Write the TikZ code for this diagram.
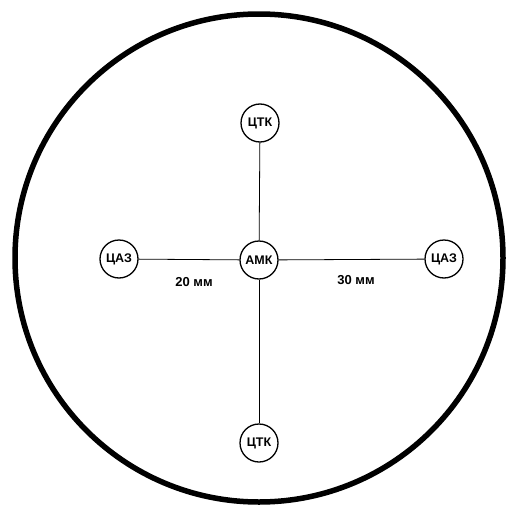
\documentclass[tikz,border=0pt]{standalone}
\usepackage{fontspec}
\setmainfont{Liberation Sans}
\usepackage{tikz}

\begin{document}
\begin{tikzpicture}[x=1pt, y=-1pt,
    post/.style={draw, line width=1.3pt, circle, minimum size=38pt, inner sep=0pt, fill=white, font=\bfseries\fontsize{12.5}{12.5}\selectfont},
    dist/.style={font=\bfseries\fontsize{13}{13}\selectfont}]
    \useasboundingbox (0, 0) rectangle (506, 506);

    % Outer ring
    \draw[line width=5.5pt] (259, 258) circle (244);

    % Posts
    \node[post] (amk) at (259, 260) {АМК};
    \node[post] (ctkN) at (260, 123) {ЦТК};
    \node[post] (ctkS) at (259, 443) {ЦТК};
    \node[post] (cazW) at (119, 259) {ЦАЗ};
    \node[post] (cazE) at (444, 259) {ЦАЗ};

    % Connections
    \draw[thick] (amk) -- (ctkN);
    \draw[thick] (amk) -- (ctkS);
    \draw[thick] (amk) -- (cazW);
    \draw[thick] (amk) -- (cazE);

    % Distances
    \node[dist] (dW) at (194, 282) {20 мм};
    \node[dist] (dE) at (356, 280) {30 мм};
\end{tikzpicture}
\end{document}
